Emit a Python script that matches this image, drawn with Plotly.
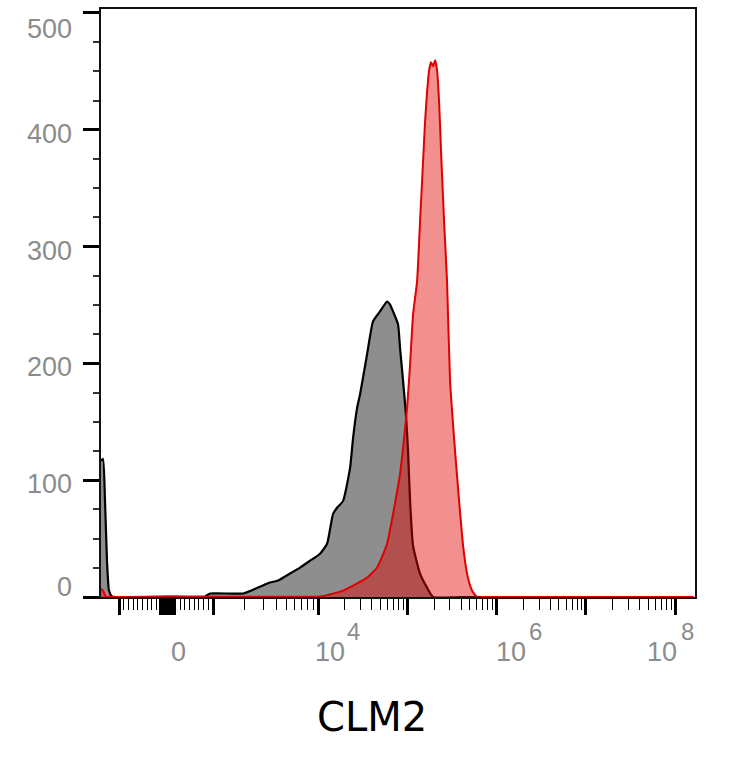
import math
import plotly.graph_objects as go

# ---------------- data (intensity, count) ----------------
GRAY_X = [-1484, -1420, -1359, -1301, -1245, -1166, 0, 830, 936, 1930, 2680, 3490, 4160,
          5410, 6740, 8400, 10530, 12620, 14730, 16330, 19060, 22840, 24680, 27360, 29580,
          35420, 41330, 49530, 59330, 64120, 69240, 78750, 82940, 89620, 96830, 101900,
          107400, 116000, 138900, 166400, 194400, 400000, 1.6e8]
GRAY_Y = [116.5, 118.2, 82.3, 31.1, 5.5, 0.4, 0.4, 0.4, 3, 3, 8.1, 12.4, 14.1,
          20.1, 25.2, 31.1, 37.1, 45.6, 71.2, 76.4, 82.3, 110.5, 136.1, 161.7, 173.7,
          207.8, 236, 244.5, 253, 250.4, 244.5, 233.4, 213, 185, 155, 125,
          82.3, 43.9, 20, 8, 0, 0, 0]

RED_X = [-1484, -1420, -1330, -1218, 0, 5410, 10530, 19060, 35420, 45810, 59330, 69240,
         82940, 89620, 99360, 107400, 116000, 128500, 138900, 150000, 158000, 166400,
         175400, 184600, 194400, 204700, 215500, 227000, 238900, 258200, 278700, 301300,
         342700, 380100, 421500, 467000, 531000, 604000, 743000, 1.6e8]
RED_Y = [7, 5.5, 0.4, 0, 0.3, 0.3, 0.4, 5.5, 16.6, 25.2, 45.6, 71.2,
         105.4, 127.6, 161.7, 199.2, 241.9, 270, 321.4, 372.4, 406.6, 432.2,
         450.9, 457.8, 454.4, 459.5, 450.9, 423.6, 381, 321.2, 270, 184.7,
         125, 82.3, 43.9, 20, 5.5, 0, 0, 0]

X_MAJOR = [-1000, 1000, 1e4, 1e5, 1e6, 1e7, 1e8]
X_LABELS = [(0, "0", None), (1e4, "10", "4"), (1e6, "10", "6"), (1e8, "10", "8")]
Y_TICKS = [0, 100, 200, 300, 400, 500]
TITLE = "CLM2"


# ---------------- biexponential-like display transform ----------------
L_LIN, D1, D2 = 47.0, 105.0, 89.25


def disp(v):
    a = abs(v)
    s = 1 if v >= 0 else -1
    if a <= 1000:
        return v / 1000 * L_LIN
    if a <= 1e4:
        return s * (L_LIN + D1 * (math.log10(a) - 3))
    return s * (L_LIN + D1 + D2 * (math.log10(a) - 4))


X_RANGE = [disp(-1484), disp(1.67e8)]

# minor ticks
minor_vals = []
for k in range(1, 10):
    minor_vals.append(-k * 100)
    minor_vals.append(k * 100)
for e in range(3, 8):
    for m in range(2, 10):
        minor_vals.append(m * 10 ** e)
blob_vals = list(range(-120, 181, 5))

fig = go.Figure()
fig.add_trace(go.Scatter(
    x=[disp(v) for v in GRAY_X], y=GRAY_Y, mode="lines", fill="tozeroy",
    line=dict(color="#000000", width=2.2, shape="spline", smoothing=0.5),
    fillcolor="rgba(30,30,30,0.5)",
    showlegend=False, hoverinfo="skip"))
fig.add_trace(go.Scatter(
    x=[disp(v) for v in RED_X], y=RED_Y, mode="lines", fill="tozeroy",
    line=dict(color="#e00000", width=2, shape="spline", smoothing=0.5),
    fillcolor="rgba(225,0,0,0.44)",
    showlegend=False, hoverinfo="skip"))

label_font = dict(family="Liberation Sans, Arial, sans-serif", size=27, color="#8c8c8c")
sup_font = dict(family="Liberation Sans, Arial, sans-serif", size=24, color="#8c8c8c")
ann = []
shifts10 = {0: 12, 1e4: 12, 1e6: 14.5, 1e8: -13}
shiftsup = {1e4: 35, 1e6: 38.5, 1e8: 12}
for v, base, sup in X_LABELS:
    ann.append(dict(x=disp(v), xref="x", y=-55 / 590, yref="paper", text=base,
                    showarrow=False, xanchor="center", yanchor="middle",
                    xshift=shifts10[v], font=label_font))
    if sup:
        ann.append(dict(x=disp(v), xref="x", y=-35 / 590, yref="paper", text=sup,
                        showarrow=False, xanchor="center", yanchor="middle",
                        xshift=shiftsup[v], font=sup_font))
yshift = {0: 10, 100: -4, 200: -4, 300: -4, 400: -4, 500: -16}
for v in Y_TICKS:
    ann.append(dict(x=-27 / 594, xref="paper", y=v, yref="y", text=str(v),
                    showarrow=False, xanchor="right", yanchor="middle",
                    yshift=yshift[v], font=label_font))
ann.append(dict(x=271 / 594, xref="paper", y=-120 / 590, yref="paper", text=TITLE,
                showarrow=False, xanchor="center", yanchor="middle",
                font=dict(family="DejaVu Sans, Verdana, sans-serif", size=40, color="#000000")))

fig.update_layout(
    width=734, height=768,
    margin=dict(l=101, r=39, t=7, b=171),
    plot_bgcolor="white", paper_bgcolor="white",
    annotations=ann,
    xaxis=dict(
        range=X_RANGE, showgrid=False, zeroline=False,
        showline=True, linecolor="#111111", linewidth=2, mirror=True,
        tickmode="array", tickvals=[disp(v) for v in X_MAJOR + blob_vals],
        ticks="outside", ticklen=16, tickwidth=3, tickcolor="#000000",
        showticklabels=False,
        minor=dict(tickmode="array", tickvals=[disp(v) for v in minor_vals],
                   ticks="outside", ticklen=11, tickwidth=1.3, tickcolor="#000000",
                   showgrid=False),
    ),
    yaxis=dict(
        range=[0, 503.4], showgrid=False, zeroline=False,
        showline=True, linecolor="#111111", linewidth=2, mirror=True,
        tickmode="array", tickvals=Y_TICKS,
        ticks="outside", ticklen=16, tickwidth=3, tickcolor="#000000",
        showticklabels=False,
        minor=dict(tickmode="linear", tick0=0, dtick=25,
                   ticks="outside", ticklen=6, tickwidth=1.5, tickcolor="#333333",
                   showgrid=False),
    ),
)

fig.write_html("out.html")
